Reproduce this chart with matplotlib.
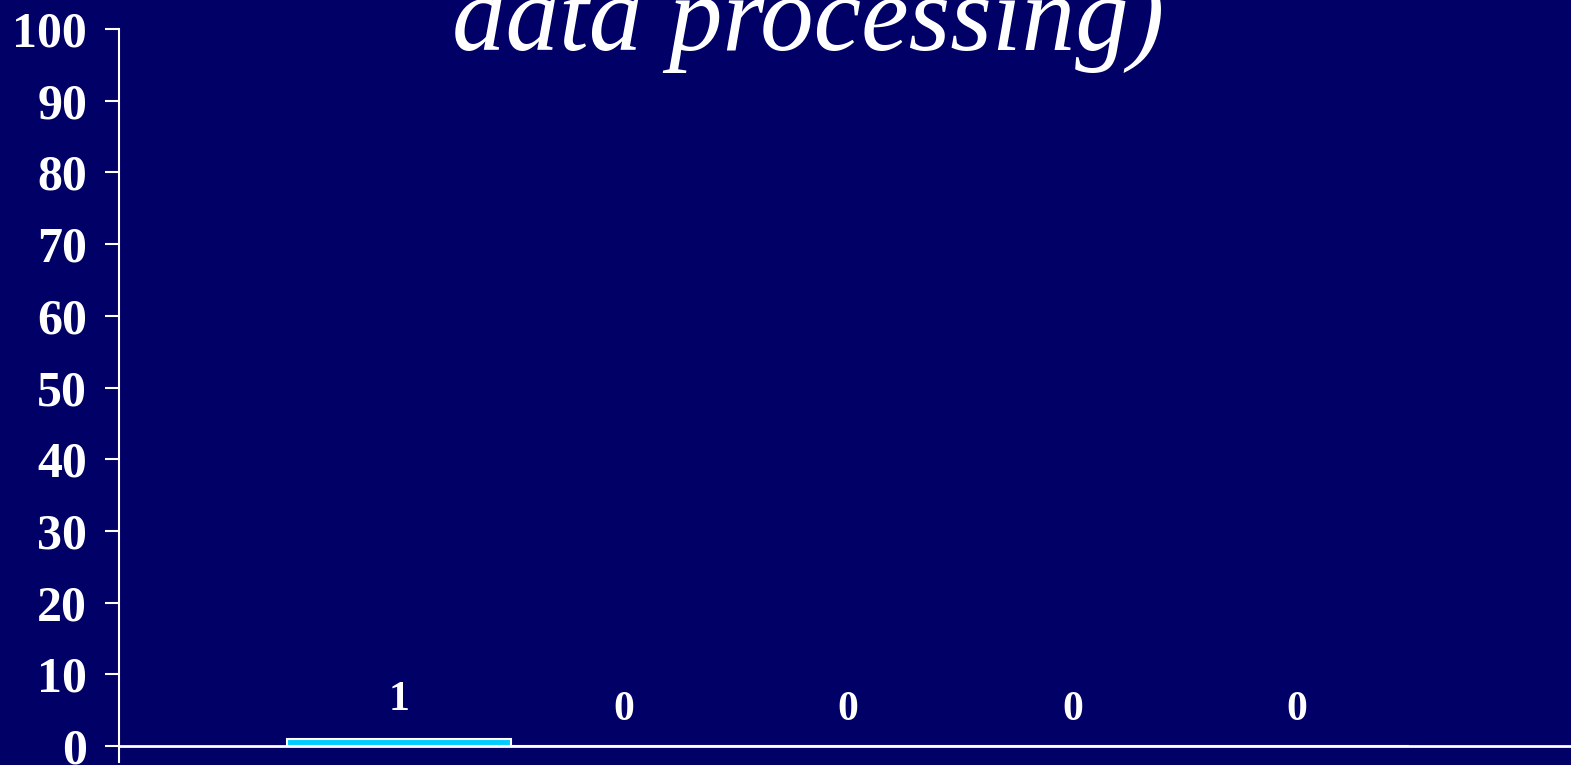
import matplotlib
matplotlib.use("Agg")
import matplotlib.pyplot as plt

categories = ["A", "B", "C", "D", "E"]
values = [1, 0, 0, 0, 0]
yticks = list(range(0, 101, 10))
title = "data processing)"

BG = "#000066"
BAR = "#00CCFF"

fig = plt.figure(figsize=(15.71, 7.65), dpi=100, facecolor=BG)
ax = fig.add_axes([119/1571, 3/765, 1 - 119/1571, (762-29)/765])
ax.set_facecolor(BG)

x = list(range(len(categories)))
ax.bar(x, values, width=1.0, color=BAR, edgecolor="white", linewidth=1.5, zorder=3)
ax.axhline(0, color="white", lw=2, zorder=4)

for xi, v in zip(x, values):
    ax.annotate(str(v), (xi, v), xytext=(0, 14 if v > 0 else 12), textcoords="offset points",
                ha="center", va="bottom", color="white", fontsize=30,
                fontfamily="Liberation Serif", fontweight="bold")

ax.set_xlim(-(399-119)/224.5, (1571-399)/224.5)
ax.set_ylim(-2.23, 100)
ax.set_yticks(yticks)
ax.set_yticklabels([str(t) for t in yticks], fontfamily="Liberation Serif",
                   fontweight="bold", fontsize=36, color="white")
ax.tick_params(axis="y", direction="out", length=10, width=1.5, color="white", pad=13)
ax.set_xticks([])
for s in ["top", "right", "bottom"]:
    ax.spines[s].set_visible(False)
ax.spines["left"].set_color("white")
ax.spines["left"].set_linewidth(1.5)

fig.text(808/1571, 1 - 50/765, title, ha="center", va="baseline", color="white",
         fontsize=77, fontfamily="Liberation Serif", fontstyle="italic")

fig.savefig("out.png", dpi=100, facecolor=BG)
